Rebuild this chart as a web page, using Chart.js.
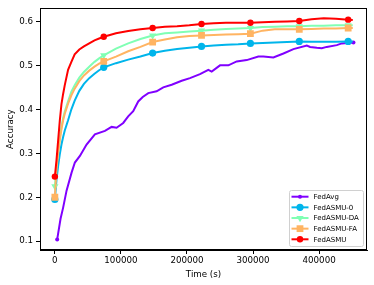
<!DOCTYPE html>
<html><head><meta charset="utf-8">
<script src="https://cdn.jsdelivr.net/npm/chart.js@4.4.1/dist/chart.umd.min.js"></script>
<style>html,body{margin:0;padding:0;background:#fff}#wrap{width:374px;height:285px}</style>
</head><body><div id="wrap"><canvas id="c" width="374" height="285"></canvas></div>
<script>
const seriesNames = ['FedAvg','FedASMU-0','FedASMU-DA','FedASMU-FA','FedASMU'];
const xTicks = [0,100000,200000,300000,400000];
const yTicks = [0.1,0.2,0.3,0.4,0.5,0.6];
const times = [0,2500,5000,7500,10000,12500,15000,20000,25000,30000,37000,44000,52000,60000,67000,74000,92500,111000,129500,148000,166500,185000,203500,222000,240500,259000,277500,296000,314500,333000,351500,370000,388500,407000,425500,444000,451000];
const markerIdx = [0,15,19,23,27,31,35];
const fedasmu = [0.247,0.285,0.33,0.375,0.412,0.435,0.455,0.49,0.508,0.525,0.536,0.543,0.550,0.557,0.561,0.565,0.573,0.578,0.582,0.585,0.588,0.589,0.591,0.594,0.596,0.597,0.597,0.597,0.598,0.599,0.600,0.601,0.605,0.607,0.606,0.604,0.603];
const fedasmuDA = [0.225,0.27,0.305,0.335,0.36,0.38,0.395,0.418,0.44,0.455,0.472,0.485,0.497,0.508,0.516,0.523,0.538,0.550,0.560,0.568,0.573,0.575,0.577,0.579,0.581,0.583,0.584,0.585,0.587,0.588,0.589,0.589,0.590,0.590,0.591,0.591,0.591];
const fedasmuFA = [0.200,0.265,0.30,0.33,0.355,0.375,0.39,0.413,0.432,0.447,0.464,0.477,0.488,0.497,0.504,0.509,0.520,0.532,0.542,0.553,0.559,0.564,0.567,0.568,0.569,0.570,0.571,0.572,0.579,0.582,0.582,0.582,0.583,0.584,0.584,0.585,0.585];
const fedasmu0 = [0.195,0.24,0.272,0.298,0.32,0.337,0.352,0.375,0.40,0.42,0.442,0.458,0.471,0.481,0.489,0.4955,0.505,0.513,0.520,0.528,0.533,0.537,0.540,0.543,0.545,0.547,0.548,0.550,0.551,0.552,0.553,0.5545,0.554,0.554,0.554,0.5545,0.5545];
const avgTimes = [3500,8600,12600,17700,25300,30300,37900,48000,60600,75800,85900,93400,103500,111000,118600,126200,133000,141400,154000,164100,176800,192000,204500,219700,232300,237400,250000,262600,275300,290400,308000,315600,330800,346000,361100,381400,386400,396500,404000,411600,426800,434300,452000];
const fedavg = [0.104,0.151,0.177,0.215,0.256,0.279,0.294,0.320,0.343,0.351,0.360,0.358,0.369,0.384,0.396,0.418,0.428,0.437,0.441,0.450,0.456,0.465,0.471,0.480,0.490,0.486,0.500,0.500,0.509,0.512,0.520,0.520,0.518,0.527,0.537,0.545,0.542,0.540,0.539,0.542,0.546,0.550,0.552];

const colors = ['#8000ff','#00b5eb','#80ffb4','#ffb462','#ff0000'];
const styles = ['circle','circle','triangle','rect','circle'];
const rots = [0,0,180,0,0];
const radii = [2,3.6,4.2,4.8,3.2];

function pts(t, v){ return t.map((x,i)=>({x:x,y:v[i]})); }
function radArr(n, r, idx){ const a=new Array(n).fill(0); idx.forEach(i=>{a[i]=r;}); return a; }

const allVals = [fedavg, fedasmu0, fedasmuDA, fedasmuFA, fedasmu];
const datasets = allVals.map((v,k)=>{
  const t = k===0 ? avgTimes : times;
  const idx = k===0 ? [0, avgTimes.length-1] : markerIdx;
  return {
    label: seriesNames[k], data: pts(t,v), borderColor: colors[k], backgroundColor: colors[k],
    borderWidth: 2, tension: 0, pointStyle: styles[k], pointRotation: rots[k],
    pointRadius: radArr(v.length, radii[k], idx), pointBorderWidth: 0,
    pointBackgroundColor: colors[k], order: 5-k, fill:false
  };
});

const frame = {
  id:'frame',
  afterDraw(chart){
    const {ctx, chartArea:a} = chart;
    ctx.save(); ctx.strokeStyle='#000'; ctx.lineWidth=1;
    ctx.strokeRect(Math.round(a.left)+0.5, Math.round(a.top)+0.5, Math.round(a.right-a.left)-1, Math.round(a.bottom-a.top)-1);
    const bx=289.5, by=190.5, bw=74, bh=56;
    ctx.fillStyle='rgba(255,255,255,0.85)'; ctx.strokeStyle='#d0d0d0';
    ctx.beginPath(); if(ctx.roundRect) ctx.roundRect(bx,by,bw,bh,2); else ctx.rect(bx,by,bw,bh); ctx.fill(); ctx.stroke();
    ctx.font='7px "DejaVu Sans"'; ctx.textBaseline='middle'; ctx.textAlign='left';
    for(let k=0;k<5;k++){
      const y = 196.7 + k*10.65;
      ctx.strokeStyle=colors[k]; ctx.lineWidth=2;
      ctx.beginPath(); ctx.moveTo(291.5,y); ctx.lineTo(308.5,y); ctx.stroke();
      ctx.fillStyle=colors[k];
      Chart.helpers.drawPoint(ctx,{pointStyle:styles[k],rotation:rots[k],radius:radii[k],borderWidth:0},300,y);
      ctx.fillStyle='#000';
      ctx.fillText(seriesNames[k],313.5,y+0.5);
    }
    ctx.restore();
  }
};

const font = {family:'"DejaVu Sans"', size:8.7};
new Chart(document.getElementById('c'), {
  type:'line',
  data:{datasets},
  options:{
    responsive:false, animation:false, devicePixelRatio:1,
    layout:{padding:{left:0,right:7,top:6,bottom:0}},
    plugins:{legend:{display:false}, tooltip:{enabled:false}},
    scales:{
      x:{type:'linear', min:-22500, max:472500,
        afterBuildTicks(s){ s.ticks = xTicks.map(v=>({value:v})); },
        afterFit(s){ s.height = 35; },
        ticks:{color:'#000', font, padding:2, maxRotation:0, autoSkip:false, callback:(v)=>String(v)},
        grid:{drawOnChartArea:false, color:'#000', tickLength:4, tickWidth:1},
        border:{display:true,color:'#000',width:1},
        title:{display:true,text:'Time (s)',color:'#000',font,padding:{top:0,bottom:5}}
      },
      y:{type:'linear', min:0.08, max:0.63,
        afterBuildTicks(s){ s.ticks = yTicks.map(v=>({value:v})); },
        afterFit(s){ s.width = 40; },
        ticks:{color:'#000', font, padding:3, autoSkip:false, callback:(v)=>v.toFixed(1)},
        grid:{drawOnChartArea:false, color:'#000', tickLength:4, tickWidth:1},
        border:{display:true,color:'#000',width:1},
        title:{display:true,text:'Accuracy',color:'#000',font,padding:{top:6,bottom:0}}
      }
    }
  },
  plugins:[frame]
});
</script></body></html>
